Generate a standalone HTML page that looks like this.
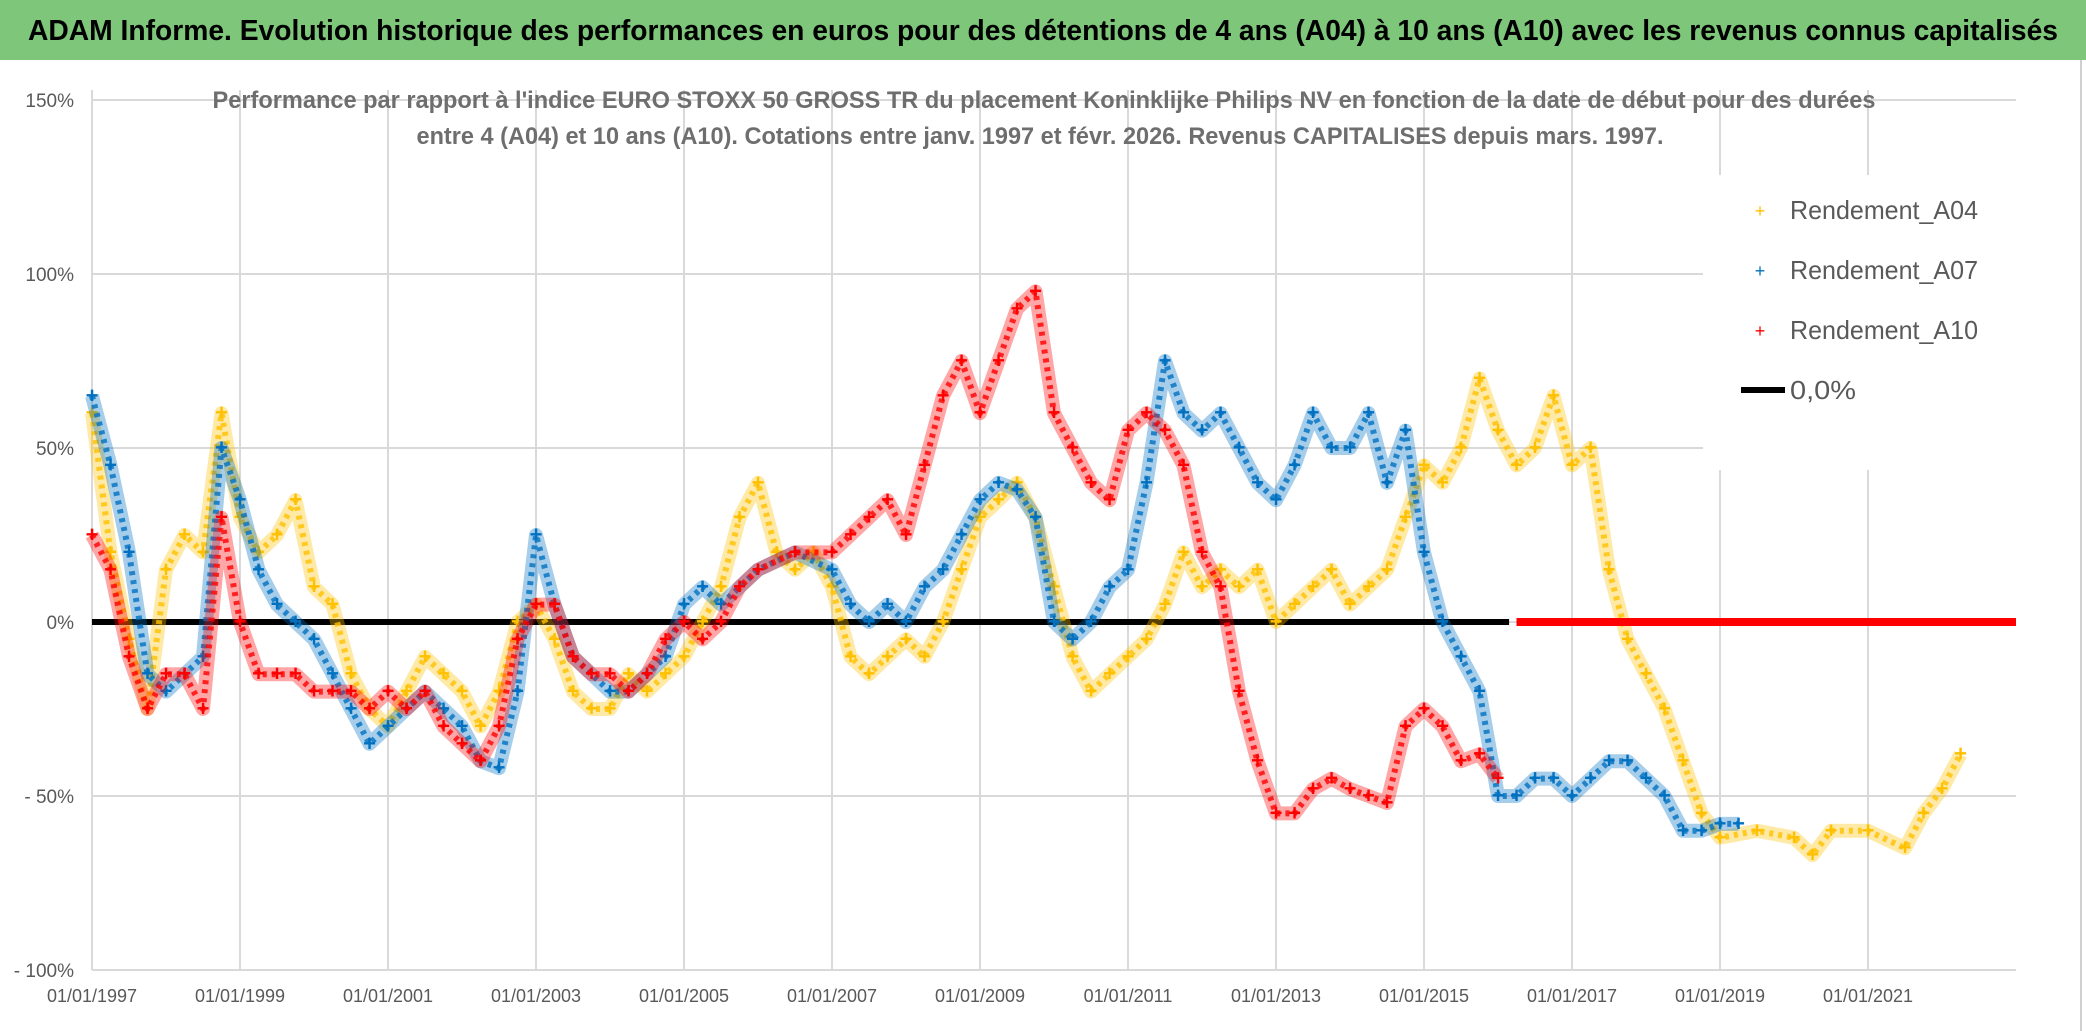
<!DOCTYPE html>
<html><head><meta charset="utf-8"><style>
html,body{margin:0;padding:0;background:#fff;}
svg{display:block;font-family:"Liberation Sans",sans-serif;}
</style></head><body>
<svg id="chart" width="2086" height="1031" viewBox="0 0 2086 1031" xmlns="http://www.w3.org/2000/svg">
<rect x="0" y="0" width="2086" height="1031" fill="#fff"/>
<rect x="0" y="0" width="2086" height="60" fill="#7dc67a"/>
<text x="1043" y="40" text-anchor="middle" font-size="29" font-weight="bold" fill="#000" textLength="2030" lengthAdjust="spacingAndGlyphs">ADAM Informe. Evolution historique des performances en euros pour des détentions de 4 ans (A04) à 10 ans (A10) avec les revenus connus capitalisés</text>
<rect x="2080" y="60" width="2" height="971" fill="#d0d0d0"/>
<g id="grid"></g>
<g id="yaxis"></g>
<g id="xaxis"></g>
<g id="series"></g>
<rect x="1703" y="175" width="318" height="295" fill="#fff"/>
<g font-size="24" font-weight="bold" fill="#6e6e6e">
<text x="1044" y="108" text-anchor="middle" textLength="1663" lengthAdjust="spacingAndGlyphs">Performance par rapport à l'indice EURO STOXX 50 GROSS TR  du placement Koninklijke Philips NV en fonction de la date de début pour des durées</text>
<text x="1040" y="144" text-anchor="middle" textLength="1247" lengthAdjust="spacingAndGlyphs">entre 4 (A04) et 10 ans (A10). Cotations entre janv. 1997 et févr. 2026. Revenus CAPITALISES depuis mars. 1997.</text>
</g>
<g font-size="26" fill="#595959">
<g><text x="1760" y="217" font-size="18" fill="#FFC000" text-anchor="middle">+</text><text x="1790" y="219" textLength="188" lengthAdjust="spacingAndGlyphs">Rendement_A04</text></g>
<g><text x="1760" y="277" font-size="18" fill="#0070C0" text-anchor="middle">+</text><text x="1790" y="279" textLength="188" lengthAdjust="spacingAndGlyphs">Rendement_A07</text></g>
<g><text x="1760" y="337" font-size="18" fill="#FF0000" text-anchor="middle">+</text><text x="1790" y="339" textLength="188" lengthAdjust="spacingAndGlyphs">Rendement_A10</text></g>
<g><line x1="1741" y1="390" x2="1785" y2="390" stroke="#000" stroke-width="6"/><text x="1790" y="399" textLength="66" lengthAdjust="spacingAndGlyphs">0,0%</text></g>
</g>
</svg>
<script>
const yTicks=[150,100,50,0,-50,-100];
const yTickLabels=["150%","100%","50%","0%","- 50%","- 100%"];
const xTicks=[1997,1999,2001,2003,2005,2007,2009,2011,2013,2015,2017,2019,2021];
const xTickLabels=["01/01/1997","01/01/1999","01/01/2001","01/01/2003","01/01/2005","01/01/2007","01/01/2009","01/01/2011","01/01/2013","01/01/2015","01/01/2017","01/01/2019","01/01/2021"];
const a04Years=[1997,1997.25,1997.5,1997.75,1998,1998.25,1998.5,1998.75,1999,1999.25,1999.5,1999.75,2000,2000.25,2000.5,2000.75,2001,2001.25,2001.5,2001.75,2002,2002.25,2002.5,2002.75,2003,2003.25,2003.5,2003.75,2004,2004.25,2004.5,2004.75,2005,2005.25,2005.5,2005.75,2006,2006.25,2006.5,2006.75,2007,2007.25,2007.5,2007.75,2008,2008.25,2008.5,2008.75,2009,2009.25,2009.5,2009.75,2010,2010.25,2010.5,2010.75,2011,2011.25,2011.5,2011.75,2012,2012.25,2012.5,2012.75,2013,2013.25,2013.5,2013.75,2014,2014.25,2014.5,2014.75,2015,2015.25,2015.5,2015.75,2016,2016.25,2016.5,2016.75,2017,2017.25,2017.5,2017.75,2018,2018.25,2018.5,2018.75,2019,2019.5,2020,2020.25,2020.5,2021,2021.5,2021.75,2022,2022.25];
const a04Values=[60,20,-5,-25,15,25,20,60,30,20,25,35,10,5,-15,-25,-30,-20,-10,-15,-20,-30,-20,0,5,-5,-20,-25,-25,-15,-20,-15,-10,0,10,30,40,20,15,20,10,-10,-15,-10,-5,-10,0,15,30,35,40,30,10,-10,-20,-15,-10,-5,5,20,10,15,10,15,0,5,10,15,5,10,15,30,45,40,50,70,55,45,50,65,45,50,15,-5,-15,-25,-40,-55,-62,-60,-62,-67,-60,-60,-65,-55,-48,-38];
const a07Years=[1997,1997.25,1997.5,1997.75,1998,1998.25,1998.5,1998.75,1999,1999.25,1999.5,1999.75,2000,2000.25,2000.5,2000.75,2001,2001.25,2001.5,2001.75,2002,2002.25,2002.5,2002.75,2003,2003.25,2003.5,2003.75,2004,2004.25,2004.5,2004.75,2005,2005.25,2005.5,2005.75,2006,2006.5,2007,2007.25,2007.5,2007.75,2008,2008.25,2008.5,2008.75,2009,2009.25,2009.5,2009.75,2010,2010.25,2010.5,2010.75,2011,2011.25,2011.5,2011.75,2012,2012.25,2012.5,2012.75,2013,2013.25,2013.5,2013.75,2014,2014.25,2014.5,2014.75,2015,2015.25,2015.5,2015.75,2016,2016.25,2016.5,2016.75,2017,2017.25,2017.5,2017.75,2018,2018.25,2018.5,2018.75,2019,2019.25];
const a07Values=[65,45,20,-15,-20,-15,-10,50,35,15,5,0,-5,-15,-25,-35,-30,-25,-20,-25,-30,-40,-42,-20,25,5,-10,-15,-20,-20,-15,-10,5,10,5,10,15,20,15,5,0,5,0,10,15,25,35,40,38,30,0,-5,0,10,15,40,75,60,55,60,50,40,35,45,60,50,50,60,40,55,20,0,-10,-20,-50,-50,-45,-45,-50,-45,-40,-40,-45,-50,-60,-60,-58,-58];
const a10Years=[1997,1997.25,1997.5,1997.75,1998,1998.25,1998.5,1998.75,1999,1999.25,1999.5,1999.75,2000,2000.25,2000.5,2000.75,2001,2001.25,2001.5,2001.75,2002,2002.25,2002.5,2002.75,2003,2003.25,2003.5,2003.75,2004,2004.25,2004.5,2004.75,2005,2005.25,2005.5,2005.75,2006,2006.5,2007,2007.25,2007.5,2007.75,2008,2008.25,2008.5,2008.75,2009,2009.25,2009.5,2009.75,2010,2010.25,2010.5,2010.75,2011,2011.25,2011.5,2011.75,2012,2012.25,2012.5,2012.75,2013,2013.25,2013.5,2013.75,2014,2014.25,2014.5,2014.75,2015,2015.25,2015.5,2015.75,2016];
const a10Values=[25,15,-10,-25,-15,-15,-25,30,0,-15,-15,-15,-20,-20,-20,-25,-20,-25,-20,-30,-35,-40,-30,-5,5,5,-10,-15,-15,-20,-15,-5,0,-5,0,10,15,20,20,25,30,35,25,45,65,75,60,75,90,95,60,50,40,35,55,60,55,45,20,10,-20,-40,-55,-55,-48,-45,-48,-50,-52,-30,-25,-30,-40,-38,-45];
const a10ZeroYears=[2016.25,2016.5,2016.75,2017,2017.25,2017.5,2017.75,2018,2018.25,2018.5,2018.75,2019,2019.25,2019.5,2019.75,2020,2020.25,2020.5,2020.75,2021,2021.25,2021.5,2021.75,2022,2022.25,2022.5,2022.75,2023];
const zeroLineRange=[1997,2016.15];

const X0=92,X1=2016,YEAR0=1997,YEAR1=2023;
const YT=100,YB=970,VMAX=150,VMIN=-100;
function xs(yr){return X0+(yr-YEAR0)/(YEAR1-YEAR0)*(X1-X0);}
function ys(v){return YT+(VMAX-v)/(VMAX-VMIN)*(YB-YT);}
const NS="http://www.w3.org/2000/svg";
function mk(tag,attrs,parent){const e=document.createElementNS(NS,tag);for(const k in attrs)e.setAttribute(k,attrs[k]);parent.appendChild(e);return e;}
const grid=document.getElementById('grid'),yaxis=document.getElementById('yaxis'),xaxis=document.getElementById('xaxis'),series=document.getElementById('series');
yTicks.forEach((v,i)=>{
  const l=mk('line',{x1:X0,x2:X1,y1:ys(v),y2:ys(v),stroke:'#d9d9d9','stroke-width':2},grid);
  
  
  const t=mk('text',{x:74,y:ys(v)+7,'text-anchor':'end','font-size':19,fill:'#595959'},yaxis);
  t.textContent=yTickLabels[i];
  
  
});
xTicks.forEach((yr,i)=>{
  const l=mk('line',{x1:xs(yr),x2:xs(yr),y1:YT-10,y2:YB,stroke:'#d9d9d9','stroke-width':2},grid);
  
  
  const t=mk('text',{x:xs(yr),y:1002,'text-anchor':'middle','font-size':18,fill:'#595959'},xaxis);
  t.textContent=xTickLabels[i];
  
  
});
function drawSeries(years,vals,color,name){
  const g=mk('g',{},series);
  
  
  const pts=years.map((y,i)=>xs(y)+','+ys(vals[i])).join(' ');
  mk('polyline',{points:pts,fill:'none',stroke:color,'stroke-width':14,'stroke-opacity':0.35,'stroke-linejoin':'round'},g);
  mk('polyline',{points:pts,fill:'none',stroke:color,'stroke-width':6,'stroke-opacity':0.8,'stroke-linejoin':'round','stroke-dasharray':'4 5'},g);
  years.forEach((y,i)=>{
    const t=mk('text',{x:xs(y),y:ys(vals[i])+7,'text-anchor':'middle','font-size':22,'font-weight':'bold',fill:color},g);
    t.textContent='+';
    
    
  });
}
const zl=mk('line',{x1:xs(zeroLineRange[0]),x2:xs(zeroLineRange[1]),y1:ys(0),y2:ys(0),stroke:'#000','stroke-width':6},series);


drawSeries(a04Years,a04Values,'#FFC000','series-a04');
drawSeries(a07Years,a07Values,'#0070C0','series-a07');
drawSeries(a10Years,a10Values,'#FF0000','series-a10');
const zr=mk('line',{x1:xs(a10ZeroYears[0]),x2:xs(a10ZeroYears[a10ZeroYears.length-1]),y1:ys(0),y2:ys(0),stroke:'#FF0000','stroke-width':8},series);


</script>
</body></html>
